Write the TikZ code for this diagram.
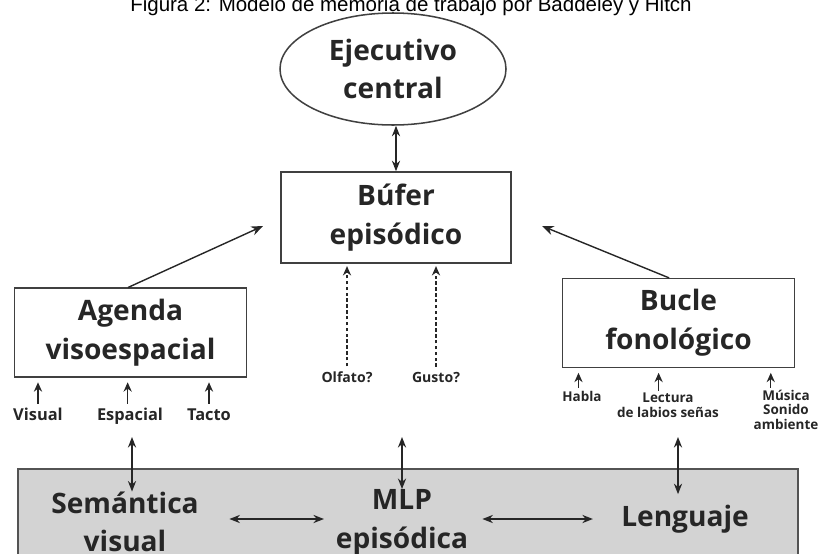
\documentclass[tikz,border=0pt]{standalone}
\usepackage{fontspec}
\setmainfont{Liberation Sans}
\newfontfamily\boxfont{Open Sans}
\usepackage{tikz}
\usetikzlibrary{arrows.meta}
\usetikzlibrary{shapes.geometric}
\definecolor{ColLine}{RGB}{64,64,64}
\definecolor{ColText}{RGB}{38,38,38}
\definecolor{ColMem}{RGB}{211,211,211}
\tikzstyle{BoxGraph}=[rectangle,draw=ColLine,line width=1.3pt,inner sep=0pt,text=ColText,
font=\boxfont\bfseries\fontsize{24}{33}\selectfont,align=center]
\tikzstyle{ExecGraph}=[BoxGraph,ellipse,minimum width=6.78cm,minimum height=3.36cm]
\tikzstyle{BuferGraph}=[BoxGraph,minimum width=6.9cm,minimum height=2.73cm]
\tikzstyle{SlaveGraph}=[BoxGraph,minimum width=6.96cm,minimum height=2.66cm]
\tikzstyle{MemGraph}=[BoxGraph,fill=ColMem,draw=ColLine!90,minimum width=23.4cm,minimum height=3.6cm,anchor=north west]
\tikzstyle{MemText}=[inner sep=0pt,text=ColText,font=\boxfont\bfseries\fontsize{24}{33}\selectfont,align=center]
\tikzstyle{InBig}=[inner sep=0pt,text=ColText,anchor=base,font=\boxfont\bfseries\fontsize{14}{16}\selectfont,align=center]
\tikzstyle{InSmall}=[inner sep=0pt,text=ColText,anchor=base,font=\boxfont\bfseries\fontsize{11.5}{12}\selectfont,align=center]
\tikzstyle{EdgeGraph}=[ColText,line width=1.2pt]
\tikzstyle{ArcGraph}=[EdgeGraph,-{Stealth[length=10pt,width=8pt]}]
\tikzstyle{BothGraph}=[EdgeGraph,{Stealth[length=9pt,width=7pt]}-{Stealth[length=9pt,width=7pt]}]
\tikzstyle{InArc}=[EdgeGraph,line width=1pt,-{Stealth[length=8pt,width=7pt]}]
\tikzstyle{MaybeArc}=[InArc,dashed,dash pattern=on 3pt off 2pt]

\begin{document}
\begin{tikzpicture}[x=0.03cm,y=-0.03cm]
    \useasboundingbox (0,0) rectangle (819,553);
    % titulo
    \node[anchor=base,font=\fontsize{17.5}{20}\selectfont](titulo)at(411,11){Figura 2: Modelo de memoria de trabajo por Baddeley y Hitch};
    % componentes
    \node[ExecGraph](ejec)at(393,69){Ejecutivo\\central};
    \node[BuferGraph](bufer)at(396,217.5){Búfer\\episódico};
    \node[SlaveGraph](agenda)at(130.5,332.5){Agenda\\visoespacial};
    \node[SlaveGraph](bucle)at(678.5,323){Bucle\\fonológico};
    \coordinate(bufL)at(263,226);
    \coordinate(bufR)at(542,226);
    \draw[BothGraph](bufer.north|-ejec.south)--(bufer.north);
    \draw[ArcGraph]([xshift=-2pt]agenda.north)--(bufL);
    \draw[ArcGraph]([xshift=-8pt]bucle.north)--(bufR);
    % entradas
    \node[InSmall,font=\boxfont\bfseries\fontsize{12}{12}\selectfont](olfato)at(347,382){Olfato?};
    \node[InSmall,font=\boxfont\bfseries\fontsize{12}{12}\selectfont](gusto)at(436,382){Gusto?};
    \draw[MaybeArc,shorten <=4pt,shorten >=2pt](olfato.north)--(olfato.north|-bufer.south);
    \draw[MaybeArc,shorten <=4pt,shorten >=2pt](gusto.north)--(gusto.north|-bufer.south);
    \node[InBig](visual)at(38,420){Visual};
    \node[InBig](espacial)at(130,420){Espacial};
    \node[InBig](tacto)at(209,420){Tacto};
    \draw[InArc,shorten <=14pt,shorten >=4pt](visual.base)--(visual.base|-agenda.south);
    \draw[InArc,shorten <=14pt,shorten >=4pt]([xshift=-2pt]espacial.base)--([xshift=-2pt]espacial.base|-agenda.south);
    \draw[InArc,shorten <=14pt,shorten >=4pt](tacto.base)--(tacto.base|-agenda.south);
    \node[InSmall](habla)at(582,401){Habla};
    \node[InSmall](lectura)at(668,417){Lectura\\de labios señas};
    \node[InSmall](musica)at(786,429){Música\\Sonido\\ambiente};
    \draw[InArc,shorten <=2pt,shorten >=4pt]([xshift=-3pt]habla.north)--([xshift=-3pt]habla.north|-bucle.south);
    \draw[InArc,shorten <=2pt,shorten >=4pt]([xshift=-8pt]lectura.north)--([xshift=-8pt]lectura.north|-bucle.south);
    \draw[InArc,shorten <=2pt,shorten >=4pt]([xshift=-13pt]musica.north)--([xshift=-13pt]musica.north|-bucle.south);
    % memoria a largo plazo
    \node[MemGraph](ltm)at(17,468){};
    \node[MemText](sem)at(125,522){Semántica\\visual};
    \node[MemText](mlp)at(402,522){MLP\\episódica};
    \node[MemText](lang)at(685,519){Lenguaje};
    \coordinate(vA)at(132,437);
    \coordinate(vB)at(402,437);
    \coordinate(vC)at(678,437);
    \draw[BothGraph](vA)--(vA|-sem.north);
    \draw[BothGraph](vB)--(vB|-mlp.north);
    \draw[BothGraph,shorten >=9pt](vC)--(vC|-lang.north);
    \draw[BothGraph,shorten <=26pt,shorten >=10pt](sem.east|-lang)--(mlp.west|-lang);
    \draw[BothGraph,shorten <=12pt,shorten >=24pt](mlp.east|-lang)--(lang.west);
\end{tikzpicture}
\end{document}
